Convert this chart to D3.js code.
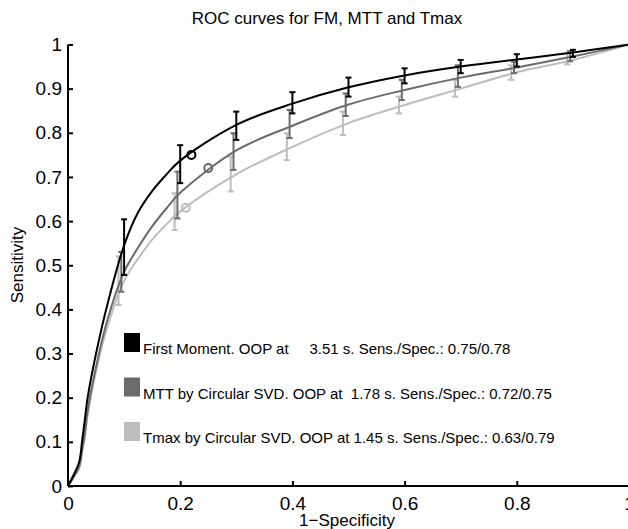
<!DOCTYPE html>
<html><head><meta charset="utf-8">
<script src="https://cdn.jsdelivr.net/npm/d3@7"></script>
<style>body{margin:0;background:#fff}text{font-family:"Liberation Sans",Arial,Helvetica,sans-serif}</style>
</head><body><svg id="c" width="628" height="529"></svg>
<script>
const title = "ROC curves for FM, MTT and Tmax";
const xLabel = "1\u2212Specificity";
const yLabel = "Sensitivity";
const xTicks = [0, 0.2, 0.4, 0.6, 0.8, 1];
const yTicks = [0, 0.1, 0.2, 0.3, 0.4, 0.5, 0.6, 0.7, 0.8, 0.9, 1];
const seriesNames = [
  "First Moment. OOP at     3.51 s. Sens./Spec.: 0.75/0.78",
  "MTT by Circular SVD. OOP at  1.78 s. Sens./Spec.: 0.72/0.75",
  "Tmax by Circular SVD. OOP at 1.45 s. Sens./Spec.: 0.63/0.79"
];
const seriesColors = ["#000000", "#6b6b6b", "#bdbdbd"];
const curveX = [0, 0.01, 0.02, 0.025, 0.03, 0.035, 0.05, 0.07, 0.1, 0.125, 0.15, 0.175, 0.2, 0.3, 0.4, 0.5, 0.6, 0.7, 0.8, 0.9, 1];
const fmY   = [0, 0.025, 0.055, 0.1, 0.15, 0.2, 0.3, 0.41, 0.545, 0.62, 0.668, 0.705, 0.737, 0.818, 0.866, 0.903, 0.93, 0.95, 0.966, 0.982, 1];
const mttY  = [0, 0.02, 0.045, 0.08, 0.12, 0.17, 0.27, 0.375, 0.485, 0.54, 0.588, 0.628, 0.664, 0.76, 0.816, 0.864, 0.897, 0.925, 0.948, 0.973, 1];
const tmaxY = [0, 0.02, 0.04, 0.075, 0.11, 0.16, 0.26, 0.36, 0.465, 0.515, 0.558, 0.592, 0.622, 0.706, 0.768, 0.822, 0.863, 0.9, 0.937, 0.965, 1];
const barX    = [0.1, 0.2, 0.3, 0.4, 0.5, 0.6, 0.7, 0.8, 0.9];
const fmLo    = [0.478, 0.686, 0.784, 0.844, 0.882, 0.912, 0.935, 0.95, 0.972];
const fmHi    = [0.604, 0.772, 0.848, 0.892, 0.925, 0.946, 0.965, 0.978, 0.988];
const mttLo   = [0.44, 0.606, 0.716, 0.788, 0.838, 0.874, 0.904, 0.935, 0.962];
const mttHi   = [0.53, 0.712, 0.799, 0.852, 0.889, 0.92, 0.953, 0.961, 0.985];
const tmaxLo  = [0.41, 0.58, 0.667, 0.738, 0.795, 0.844, 0.882, 0.92, 0.955];
const tmaxHi  = [0.52, 0.663, 0.746, 0.799, 0.848, 0.882, 0.92, 0.953, 0.98];
const barShift = [0, -0.005, -0.01];
const oopX = [0.22, 0.25, 0.21];
const oopY = [0.75, 0.72, 0.63];

const svg = d3.select("#c");
const x = d3.scaleLinear().domain([0, 1]).range([68, 629]);
const y = d3.scaleLinear().domain([0, 1]).range([486, 44.5]);

const ys = [fmY, mttY, tmaxY];
const los = [fmLo, mttLo, tmaxLo];
const his = [fmHi, mttHi, tmaxHi];

const line = d3.line().x(d => x(d[0])).y(d => y(d[1])).curve(d3.curveCatmullRom.alpha(0.5));

for (let s = 2; s >= 0; s--) {
  const g = svg.append("g");
  g.append("path").datum(curveX.map((v, i) => [v, ys[s][i]]))
    .attr("d", line).attr("fill", "none").attr("stroke", seriesColors[s]).attr("stroke-width", 2);
  barX.forEach((bx, i) => {
    const px = x(bx + barShift[s]);
    g.append("line").attr("x1", px).attr("x2", px).attr("y1", y(los[s][i])).attr("y2", y(his[s][i]))
      .attr("stroke", seriesColors[s]).attr("stroke-width", 2);
    [los[s][i], his[s][i]].forEach(v => {
      g.append("line").attr("x1", px - 3).attr("x2", px + 3).attr("y1", y(v)).attr("y2", y(v))
        .attr("stroke", seriesColors[s]).attr("stroke-width", 2);
    });
  });
  g.append("circle").attr("cx", x(oopX[s])).attr("cy", y(oopY[s])).attr("r", 4)
    .attr("fill", "none").attr("stroke", seriesColors[s]).attr("stroke-width", 2);
}

const fmt = d => String(+d.toFixed(1));
const xAxis = d3.axisBottom(x).tickValues(xTicks).tickSize(-5).tickPadding(8).tickFormat(fmt);
const yAxis = d3.axisLeft(y).tickValues(yTicks).tickSize(-5).tickPadding(6).tickFormat(fmt);
const gx = svg.append("g").attr("transform", "translate(0,486)").call(xAxis);
const gy = svg.append("g").attr("transform", "translate(68,0)").call(yAxis);
[gx, gy].forEach(g => {
  g.select(".domain").attr("stroke", "#000").attr("stroke-width", 2).attr("d",
    g === gx ? "M68,0H629" : "M0,44.5V486");
  g.selectAll(".tick line").attr("stroke", "#000").attr("stroke-width", 2);
  g.selectAll(".tick text").attr("font-size", 19).attr("fill", "#000")
    .attr("font-family", "'Liberation Sans', Arial, sans-serif");
});
gx.selectAll(".tick text").attr("dy", "0.85em");

svg.append("text").attr("x", 327).attr("y", 24).attr("text-anchor", "middle")
  .attr("font-size", 17).text(title);
svg.append("text").attr("x", 347).attr("y", 526).attr("text-anchor", "middle")
  .attr("font-size", 17).text(xLabel);
svg.append("text").attr("transform", "translate(23,265) rotate(-90)").attr("text-anchor", "middle")
  .attr("font-size", 17).text(yLabel);

seriesNames.forEach((n, i) => {
  const top = 333 + i * 44.5;
  svg.append("rect").attr("x", 124).attr("y", top).attr("width", 16).attr("height", 19)
    .attr("fill", seriesColors[i]);
  svg.append("text").attr("x", 143).attr("y", top + 21).attr("font-size", 15)
    .attr("xml:space", "preserve").style("white-space", "pre").text(n);
});
</script></body></html>
